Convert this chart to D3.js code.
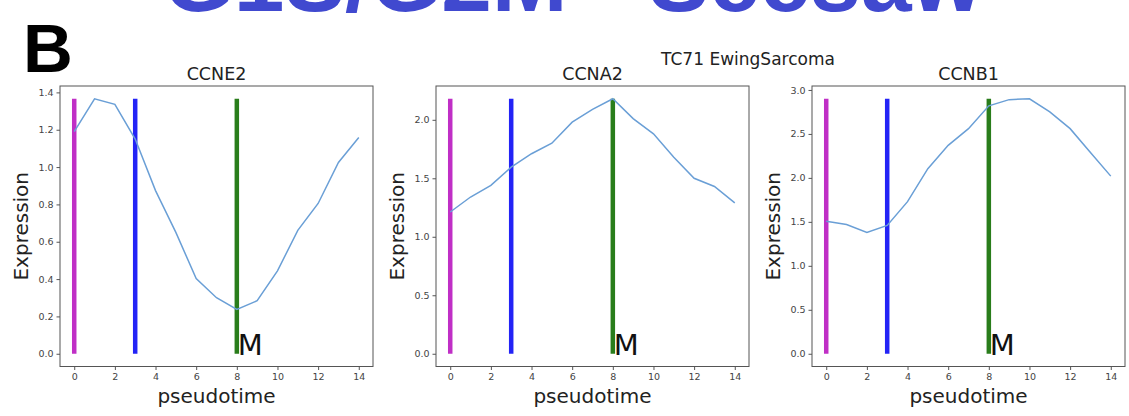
<!DOCTYPE html>
<html>
<head>
<meta charset="utf-8">
<script src="https://cdn.jsdelivr.net/npm/d3@7"></script>
<style>
  html, body { margin: 0; padding: 0; background: #fff; }
  svg { display: block; }
</style>
</head>
<body>
<svg id="chart" width="1129" height="416"></svg>
<script>
const pseudotime = [0,1,2,3,4,5,6,7,8,9,10,11,12,13,14];
const genes = ["CCNE2", "CCNA2", "CCNB1"];
const ccne2 = [1.19,1.366,1.336,1.15,0.874,0.65,0.403,0.30,0.238,0.284,0.444,0.661,0.805,1.025,1.158];
const ccna2 = [1.212,1.34,1.44,1.595,1.71,1.80,1.98,2.09,2.18,2.01,1.88,1.68,1.50,1.43,1.29];
const ccnb1 = [1.508,1.47,1.38,1.46,1.73,2.105,2.37,2.56,2.82,2.89,2.90,2.75,2.56,2.29,2.02];
const seriesValues = [ccne2, ccna2, ccnb1];
const yTicks = [
  [0.0,0.2,0.4,0.6,0.8,1.0,1.2,1.4],
  [0.0,0.5,1.0,1.5,2.0],
  [0.0,0.5,1.0,1.5,2.0,2.5,3.0]
];
const xTicks = [0,2,4,6,8,10,12,14];
const markerTimes = [0, 3, 8];
const markerColors = ["#c02fc6", "#2323f6", "#297d1b"];
const markerLabel = "M";
const suptitle = "TC71 EwingSarcoma";
const panelLetter = "B";
const bannerText = "G1S/G2M - Seesaw";

(function () {
const svg = d3.select("#chart");
const font = "'DejaVu Sans', sans-serif";

// clipped banner text at top
svg.append("text").attr("x", 163).attr("y", 11)
  .attr("font-family", "'Liberation Sans', Arial, sans-serif")
  .attr("font-weight", "bold").attr("font-size", 91)
  .attr("fill", "#4049cf").text(bannerText);

svg.append("text").attr("x", 23).attr("y", 72)
  .attr("font-family", "'Liberation Sans', Arial, sans-serif")
  .attr("font-weight", "bold").attr("font-size", 69)
  .attr("fill", "#000").text(panelLetter);

svg.append("text").attr("x", 748).attr("y", 65)
  .attr("text-anchor", "middle")
  .attr("font-family", font).attr("font-size", 17)
  .attr("fill", "#222").text(suptitle);

const panelLefts = [60, 436, 812];
const pw = 313, plotTop = 86, plotBottom = 366.5;

genes.forEach((g, i) => {
  const vals = seriesValues[i];
  const ymax = d3.max(vals);
  const L = panelLefts[i];
  const x = d3.scaleLinear().domain([-0.7, 14.7]).range([L, L + pw]);
  const y = d3.scaleLinear().domain([-0.05 * ymax, 1.05 * ymax]).range([plotBottom, plotTop]);
  const gp = svg.append("g");

  markerTimes.forEach((t, k) => {
    gp.append("line")
      .attr("x1", x(t)).attr("x2", x(t))
      .attr("y1", y(0)).attr("y2", y(ymax))
      .attr("stroke", markerColors[k]).attr("stroke-width", 4.5);
  });

  const line = d3.line().x((d, j) => x(pseudotime[j])).y(d => y(d));
  gp.append("path").datum(vals)
    .attr("d", line).attr("fill", "none")
    .attr("stroke", "#6a9fd6").attr("stroke-width", 1.5);

  gp.append("text").attr("x", x(8) + 1).attr("y", y(0) + 1)
    .attr("font-family", font).attr("font-size", 29)
    .attr("fill", "#111").text(markerLabel);

  gp.append("rect").attr("x", L).attr("y", plotTop)
    .attr("width", pw).attr("height", plotBottom - plotTop)
    .attr("fill", "none").attr("stroke", "#555").attr("stroke-width", 1);

  const xa = gp.append("g").attr("transform", `translate(0,${plotBottom})`)
    .call(d3.axisBottom(x).tickValues(xTicks).tickSize(3.5).tickPadding(3).tickFormat(d3.format("d")));
  const ya = gp.append("g").attr("transform", `translate(${L},0)`)
    .call(d3.axisLeft(y).tickValues(yTicks[i]).tickSize(3.5).tickPadding(3).tickFormat(d3.format(".1f")));
  [xa, ya].forEach(a => {
    a.select(".domain").remove();
    a.selectAll("line").attr("stroke", "#555");
    a.selectAll("text").attr("font-family", font).attr("font-size", 9.5).attr("fill", "#444");
  });

  gp.append("text").attr("x", L + pw / 2).attr("y", 80)
    .attr("text-anchor", "middle")
    .attr("font-family", font).attr("font-size", 17.5)
    .attr("fill", "#222").text(g);

  gp.append("text").attr("x", L + pw / 2).attr("y", 403)
    .attr("text-anchor", "middle")
    .attr("font-family", font).attr("font-size", 20)
    .attr("fill", "#222").text("pseudotime");

  gp.append("text")
    .attr("transform", `translate(${L - 32},${(plotTop + plotBottom) / 2}) rotate(-90)`)
    .attr("text-anchor", "middle")
    .attr("font-family", font).attr("font-size", 20)
    .attr("fill", "#222").text("Expression");
});
})();
</script>
</body>
</html>
